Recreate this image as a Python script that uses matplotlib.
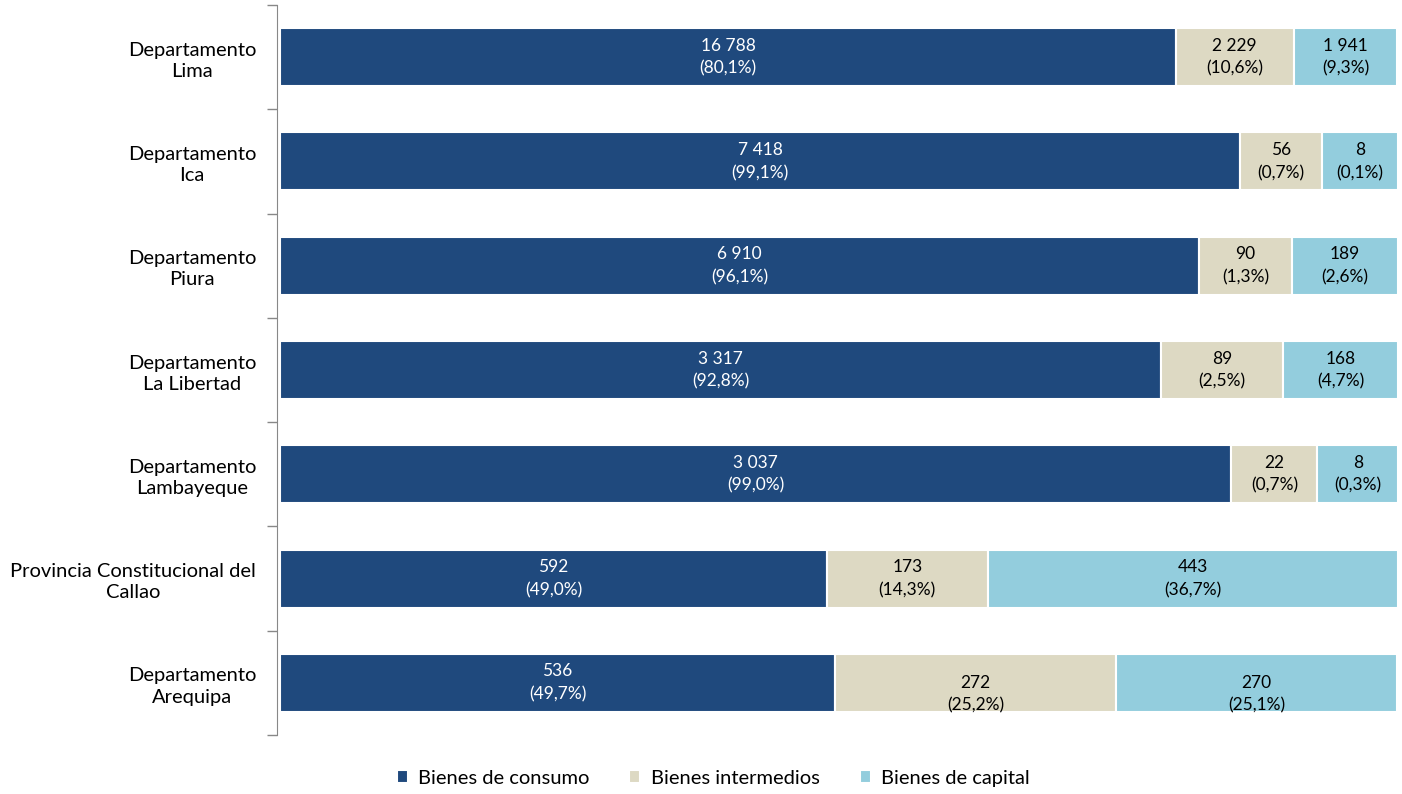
import matplotlib.pyplot as plt
import numpy as np

plt.rcParams['font.family'] = ['Lato', 'DejaVu Sans']

regiones = ['Departamento\nLima', 'Departamento\nIca', 'Departamento\nPiura',
            'Departamento\nLa Libertad', 'Departamento\nLambayeque',
            'Provincia Constitucional del\nCallao', 'Departamento\nArequipa']
series = ['Bienes de consumo', 'Bienes intermedios', 'Bienes de capital']

# valores mostrados en las etiquetas
consumo = [16788, 7418, 6910, 3317, 3037, 592, 536]
intermedios = [2229, 56, 90, 89, 22, 173, 272]
capital = [1941, 8, 189, 168, 8, 443, 270]
pct_consumo = ['80,1', '99,1', '96,1', '92,8', '99,0', '49,0', '49,7']
pct_intermedios = ['10,6', '0,7', '1,3', '2,5', '0,7', '14,3', '25,2']
pct_capital = ['9,3', '0,1', '2,6', '4,7', '0,3', '36,7', '25,1']

# ancho dibujado de cada segmento (% del total)
ancho_consumo = [80.1, 85.9, 82.2, 78.8, 85.1, 48.9, 49.6]
ancho_intermedios = [10.6, 7.3, 8.3, 10.9, 7.7, 14.4, 25.2]
ancho_capital = [9.2, 6.8, 9.5, 10.3, 7.2, 36.7, 25.1]

colores = ['#1F497D', '#DDD9C3', '#93CDDD']


def fmt(v):
    return f'{v:,}'.replace(',', ' ')


fig = plt.figure(figsize=(14.02, 7.94), dpi=100)
ax = fig.add_axes([0.1976, 0.0743, 0.7995, 0.9194])

y = np.arange(len(regiones))
valores = [consumo, intermedios, capital]
anchos = [ancho_consumo, ancho_intermedios, ancho_capital]
pcts = [pct_consumo, pct_intermedios, pct_capital]

left = np.zeros(len(regiones))
for k, nombre in enumerate(series):
    w = np.array(anchos[k])
    ax.barh(y, w, left=left, height=0.555, color=colores[k], edgecolor='white',
            linewidth=1.5, label=nombre)
    tc = 'white' if k == 0 else 'black'
    for i in range(len(regiones)):
        cx = left[i] + w[i] / 2
        dy = 0.11 if (i == 6 and k > 0) else 0  # Arequipa: etiquetas mas abajo
        ax.text(cx, y[i] - 0.11 + dy, fmt(valores[k][i]), ha='center', va='center',
                color=tc, fontsize=12.5)
        ax.text(cx, y[i] + 0.11 + dy, f'({pcts[k][i]}%)', ha='center', va='center',
                color=tc, fontsize=12.5)
    left = left + w

ax.set_xlim(-0.3, 100)
ax.set_ylim(len(regiones) - 0.5, -0.5)
ax.set_yticks(y)
ax.set_yticklabels(regiones, fontsize=14.5, multialignment='center', linespacing=1.3)
ax.set_yticks(np.arange(-0.5, len(regiones)), minor=True)
ax.tick_params(axis='y', which='major', length=0, pad=15)
ax.tick_params(axis='y', which='minor', length=7, color='#888888', width=1)
ax.set_xticks([])
for s in ['top', 'right', 'bottom']:
    ax.spines[s].set_visible(False)
ax.spines['left'].set_color('#888888')

ax.legend(loc='center', bbox_to_anchor=(0.389, -0.059), ncol=3, frameon=False,
          fontsize=14.5, handlelength=0.55, handleheight=0.55, columnspacing=2.0,
          handletextpad=0.5)

fig.savefig('out.png', dpi=100)
